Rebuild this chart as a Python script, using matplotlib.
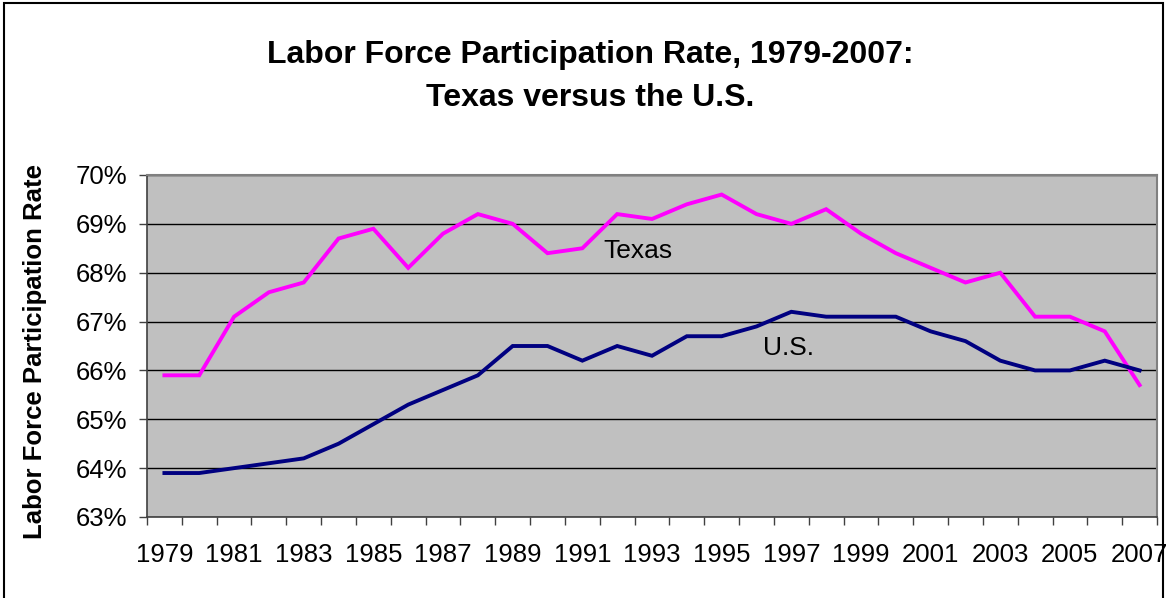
import matplotlib
matplotlib.use("Agg")
import matplotlib.pyplot as plt
from matplotlib.patches import Rectangle
from matplotlib.ticker import FixedLocator, FuncFormatter

plt.rcParams['font.family'] = ['Liberation Sans', 'DejaVu Sans']

years = list(range(1979, 2008))
texas = [65.9, 65.9, 67.1, 67.6, 67.8, 68.7, 68.9, 68.1, 68.8, 69.2,
         69.0, 68.4, 68.5, 69.2, 69.1, 69.4, 69.6, 69.2, 69.0, 69.3,
         68.8, 68.4, 68.1, 67.8, 68.0, 67.1, 67.1, 66.8, 65.7]
us = [63.9, 63.9, 64.0, 64.1, 64.2, 64.5, 64.9, 65.3, 65.6, 65.9,
      66.5, 66.5, 66.2, 66.5, 66.3, 66.7, 66.7, 66.9, 67.2, 67.1,
      67.1, 67.1, 66.8, 66.6, 66.2, 66.0, 66.0, 66.2, 66.0]
y_ticks = [63, 64, 65, 66, 67, 68, 69, 70]
x_labels = [str(y) for y in years[::2]]

W, H = 1166, 598
fig = plt.figure(figsize=(W / 100, H / 100), dpi=100)
fig.patch.set_facecolor('white')
fig.add_artist(Rectangle((4 / W, -0.02), (1163 - 4) / W, 1 - 3 / H + 0.02,
                         transform=fig.transFigure, fill=False,
                         edgecolor='black', linewidth=1.5))

ax = fig.add_axes([147 / W, 1 - 517 / H, (1157 - 147) / W, (517 - 175) / H])
ax.set_facecolor('#C0C0C0')
x = list(range(len(years)))
ax.plot(x, texas, color='#FF00FF', linewidth=2.8, solid_joinstyle='miter')
ax.plot(x, us, color='#000080', linewidth=2.8, solid_joinstyle='miter')

ax.set_xlim(-0.5, len(years) - 0.5)
ax.set_ylim(63, 70)
ax.set_yticks(y_ticks)
ax.yaxis.set_major_formatter(FuncFormatter(lambda v, p: f"{v:.0f}%"))
ax.grid(axis='y', color='black', linewidth=1)
ax.set_axisbelow(True)

ax.set_xticks(x[::2])
ax.set_xticklabels(x_labels)
ax.xaxis.set_minor_locator(FixedLocator([i - 0.5 for i in range(len(years) + 1)]))
ax.tick_params(axis='x', which='major', length=0, pad=19, labelsize=18.5)
ax.tick_params(axis='x', which='minor', length=6, width=1, color='#404040', direction='out')
ax.tick_params(axis='y', length=6, width=1, color='#404040', labelsize=18.5, pad=8)

for s in ['top', 'right']:
    ax.spines[s].set_color('#808080')
    ax.spines[s].set_linewidth(1.5)
for s in ['left', 'bottom']:
    ax.spines[s].set_color('#404040')
    ax.spines[s].set_linewidth(1.2)

ax.set_ylabel('Labor Force Participation Rate', fontsize=18.5, fontweight='bold')
ax.yaxis.set_label_coords((47 - 147) / (1157 - 147), 0.485)

ax.text(12.6, 68.45, 'Texas', fontsize=19, ha='left', va='center')
ax.text(17.2, 66.45, 'U.S.', fontsize=19, ha='left', va='center')

fig.text(590 / W, 1 - 55 / H, 'Labor Force Participation Rate, 1979-2007:',
         fontsize=23, fontweight='bold', ha='center', va='center')
fig.text(590 / W, 1 - 98 / H, 'Texas versus the U.S.',
         fontsize=23, fontweight='bold', ha='center', va='center')

fig.savefig('out.png', dpi=100)
